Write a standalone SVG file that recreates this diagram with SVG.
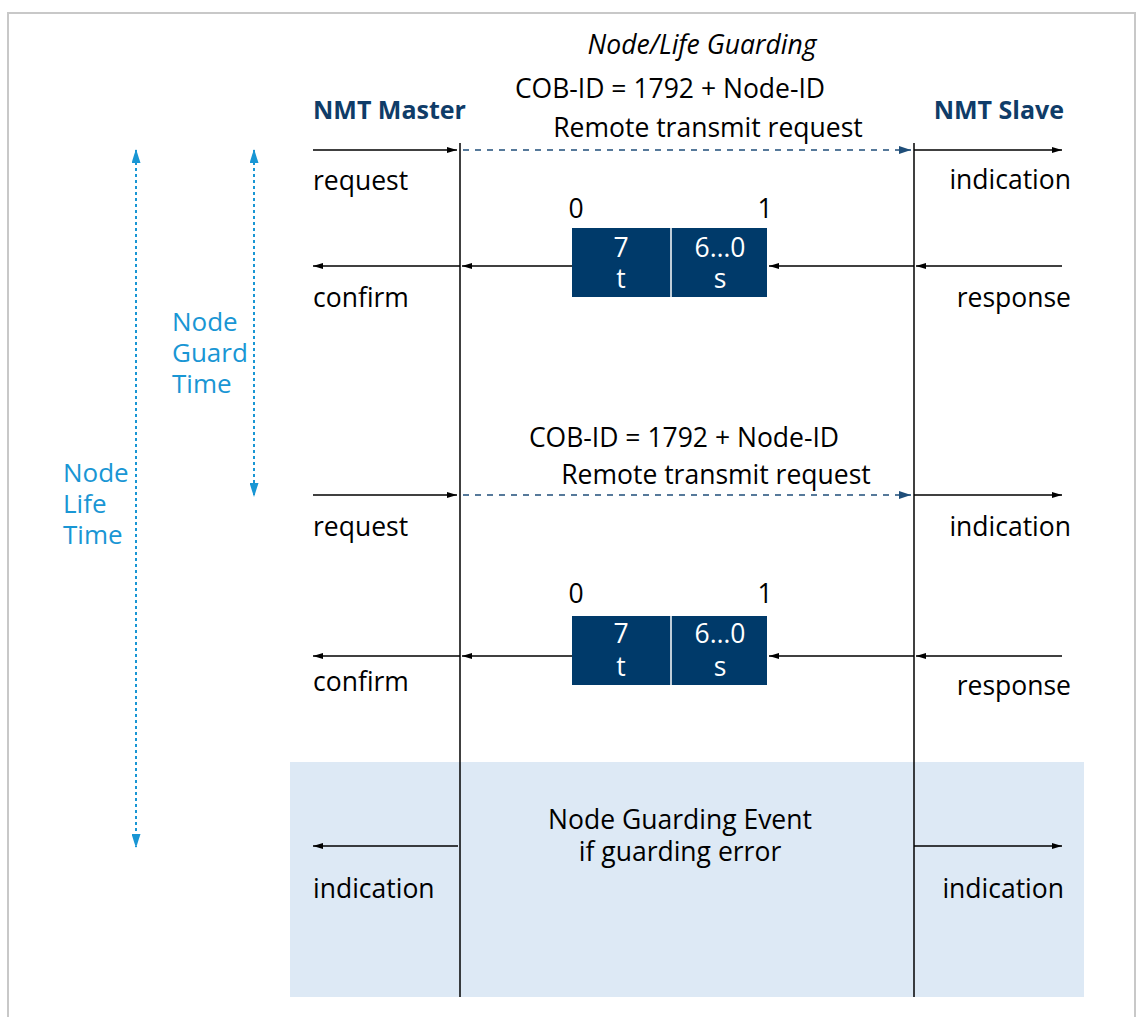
<svg xmlns="http://www.w3.org/2000/svg" width="1136" height="1017" viewBox="0 0 1136 1017">
<style>
text{font-family:"Open Sans","Noto Sans",sans-serif;font-size:26.5px;fill:#000}
.hd{font-weight:bold;fill:#0f3c68;font-size:25px}
.lb{fill:#1996d4;font-size:26px}
.wt{fill:#fff}
.ln{stroke:#000;stroke-width:1.5;fill:none}
.ar{stroke:#000;stroke-width:1.5;fill:none;marker-end:url(#ah)}
.da{stroke:#1f4e79;stroke-width:1.5;fill:none;stroke-dasharray:6,6;marker-end:url(#ahb)}
.tm{stroke:#1996d4;stroke-width:2;fill:none;stroke-dasharray:3,3;marker-start:url(#ahl);marker-end:url(#ahl)}
.box{fill:#003a6a}
</style>
<defs>
<marker id="ah" viewBox="0 0 10 6" refX="10" refY="3" markerWidth="10" markerHeight="6" markerUnits="userSpaceOnUse" orient="auto"><path d="M0,0L10,3L0,6z" fill="#000"/></marker>
<marker id="ahb" viewBox="0 0 12 8" refX="12" refY="4" markerWidth="12" markerHeight="8" markerUnits="userSpaceOnUse" orient="auto"><path d="M0,0L12,4L0,8z" fill="#1f4e79"/></marker>
<marker id="ahl" viewBox="0 0 14 9" refX="13" refY="4.5" markerWidth="14" markerHeight="9" markerUnits="userSpaceOnUse" orient="auto-start-reverse"><path d="M0,0L14,4.5L0,9z" fill="#1996d4"/></marker>
</defs>
<rect x="8" y="13" width="1127" height="1010" fill="#fff" stroke="#c8c8c8" stroke-width="2"/>
<g id="event-area"><rect x="290" y="762" width="794" height="235" fill="#dde9f5"/></g>
<g id="lifelines">
<line class="ln" x1="460" y1="143" x2="460" y2="997"/>
<line class="ln" x1="914" y1="143" x2="914" y2="997"/>
</g>
<g id="titles">
<text x="702" y="54" text-anchor="middle" font-style="italic" font-size="28">Node/Life Guarding</text>
<text class="hd" x="313" y="119">NMT Master</text>
<text class="hd" x="1064" y="119" text-anchor="end">NMT Slave</text>
</g>
<g id="timers">
<text class="lb" x="172" y="331">Node<tspan x="172" dy="31">Guard</tspan><tspan x="172" dy="31">Time</tspan></text>
<text class="lb" x="63" y="482">Node<tspan x="63" dy="31">Life</tspan><tspan x="63" dy="31">Time</tspan></text>
</g>
<g id="connectors">
<line class="tm" x1="254" y1="150" x2="254" y2="496"/>
<line class="tm" x1="136" y1="150" x2="136" y2="847"/>
<line class="ar" x1="313" y1="150" x2="457" y2="150"/>
<line class="da" x1="463" y1="150" x2="911" y2="150"/>
<line class="ar" x1="914" y1="150" x2="1062" y2="150"/>
<line class="ar" x1="1062" y1="266" x2="916" y2="266"/>
<line class="ar" x1="914" y1="266" x2="769" y2="266"/>
<line class="ar" x1="572" y1="266" x2="462" y2="266"/>
<line class="ar" x1="460" y1="266" x2="313" y2="266"/>
<line class="ar" x1="313" y1="495" x2="457" y2="495"/>
<line class="da" x1="463" y1="495" x2="911" y2="495"/>
<line class="ar" x1="914" y1="495" x2="1062" y2="495"/>
<line class="ar" x1="1062" y1="656" x2="916" y2="656"/>
<line class="ar" x1="914" y1="656" x2="769" y2="656"/>
<line class="ar" x1="572" y1="656" x2="462" y2="656"/>
<line class="ar" x1="460" y1="656" x2="313" y2="656"/>
<line class="ar" x1="458" y1="846" x2="313" y2="846"/>
<line class="ar" x1="914" y1="846" x2="1062" y2="846"/>
</g>
<g id="cycle1">
<text x="670" y="98" text-anchor="middle">COB-ID = 1792 + Node-ID</text>
<text x="708" y="137" text-anchor="middle">Remote transmit request</text>
<text x="313" y="190">request</text>
<text x="1071" y="189" text-anchor="end">indication</text>
<text x="576" y="218" text-anchor="middle">0</text>
<text x="765" y="218" text-anchor="middle">1</text>
<text x="313" y="307">confirm</text>
<text x="1071" y="307" text-anchor="end">response</text>
</g>
<g id="frame1">
<rect class="box" x="572" y="228" width="195" height="69"/>
<line x1="671" y1="228" x2="671" y2="297" stroke="#fff" stroke-width="1.5"/>
<text class="wt" x="621" y="257" text-anchor="middle">7<tspan x="621" dy="31">t</tspan></text>
<text class="wt" x="720" y="257" text-anchor="middle">6…0<tspan x="720" dy="31">s</tspan></text>
</g>
<g id="cycle2">
<text x="684" y="447" text-anchor="middle">COB-ID = 1792 + Node-ID</text>
<text x="716" y="484" text-anchor="middle">Remote transmit request</text>
<text x="313" y="536">request</text>
<text x="1071" y="536" text-anchor="end">indication</text>
<text x="576" y="603" text-anchor="middle">0</text>
<text x="765" y="603" text-anchor="middle">1</text>
<text x="313" y="691">confirm</text>
<text x="1071" y="695" text-anchor="end">response</text>
</g>
<g id="frame2">
<rect class="box" x="572" y="616" width="195" height="69"/>
<line x1="671" y1="616" x2="671" y2="685" stroke="#fff" stroke-width="1.5"/>
<text class="wt" x="621" y="643" text-anchor="middle">7<tspan x="621" dy="33">t</tspan></text>
<text class="wt" x="720" y="643" text-anchor="middle">6…0<tspan x="720" dy="33">s</tspan></text>
</g>
<g id="event">
<text x="680" y="829" text-anchor="middle">Node Guarding Event<tspan x="680" dy="32">if guarding error</tspan></text>
<text x="313" y="898">indication</text>
<text x="1064" y="898" text-anchor="end">indication</text>
</g>
</svg>
